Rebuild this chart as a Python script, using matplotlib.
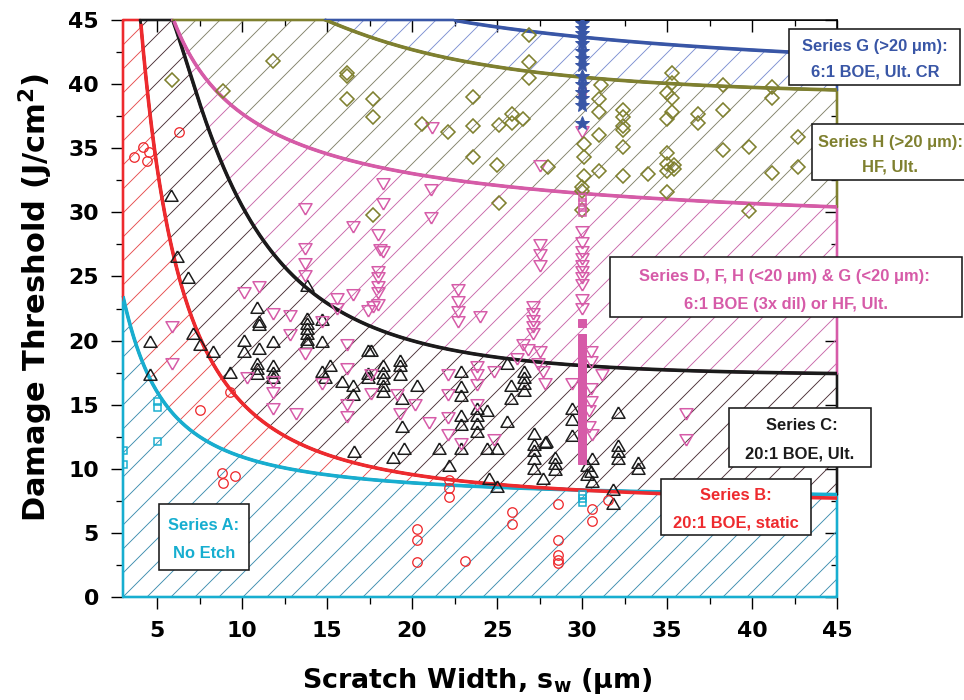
import numpy as np
import matplotlib
matplotlib.use("Agg")
import matplotlib.pyplot as plt
from matplotlib.patches import Rectangle

# ---------------- data ----------------
# threshold curves: anchor points (x in um, y in J/cm2)
curveA_x = [3, 3.5, 4, 5, 6, 7.5, 9.5, 11.5, 15.2, 20, 25, 30, 45]
curveA_y = [23.2, 21.3, 19.0, 15.5, 14.1, 12.5, 11.2, 10.4, 9.75, 9.1, 8.6, 8.3, 7.7]
curveB_x = [4.0, 4.6, 5.0, 5.65, 6.5, 7.5, 9.3, 11.1, 13.4, 15.6, 18.1, 24, 30, 34.6, 45]
curveB_y = [45, 38.5, 34, 27.8, 23.4, 20.5, 16.4, 13.8, 11.7, 10.8, 10.4, 9.3, 8.4, 8.0, 7.3]
curveC_x = [5.9, 7.5, 8.1, 9.9, 12.1, 15.2, 18.1, 21.5, 25.8, 31.1, 45]
curveC_y = [45, 38.8, 36.2, 31.0, 25.8, 22.4, 20.8, 20.0, 18.9, 18.1, 17.0]
curveD_x = [5.95, 7.5, 9.5, 11.5, 15.2, 20, 25, 30, 34.6, 45]
curveD_y = [45, 41.4, 38.0, 36.2, 34.6, 33.3, 32.1, 31.4, 31.0, 30.4]
curveH_x = [14.6, 15.2, 17.6, 20, 22.5, 25, 30, 34.6, 45]
curveH_y = [45.2, 44.8, 43.7, 42.7, 41.9, 41.3, 40.5, 40.2, 39.5]
curveG_x = [22.5, 25, 30, 32.8, 37.5, 42.2, 45]
curveG_y = [45, 44.4, 43.7, 43.3, 42.9, 42.5, 42.3]

# Series A: no etch (open cyan squares)
seriesA_x = [3.0, 3.0, 5.0, 5.0, 5.0, 30.0, 30.0, 30.0]
seriesA_y = [11.5, 10.4, 15.3, 14.8, 12.2, 8.0, 7.7, 7.4]

# Series B: 20:1 BOE static (open red circles)
seriesB_x = [3.65, 4.2, 4.5, 4.4, 6.3, 7.5, 9.3, 8.8, 8.9, 9.6, 22.2, 22.2, 22.2, 25.9, 25.9,
             20.3, 20.3, 20.3, 23.1, 28.6, 28.6, 28.6, 28.6, 28.6, 30.6, 30.6, 31.5]
seriesB_y = [34.3, 35.1, 34.7, 34.0, 36.3, 14.6, 16.0, 9.7, 8.9, 9.4, 9.1, 8.5, 7.8, 6.6, 5.7,
             5.3, 4.45, 2.75, 2.8, 7.25, 4.45, 3.3, 2.9, 2.65, 6.9, 5.9, 7.6]

# Series C: 20:1 BOE Ult. (open black up-triangles)
seriesC_x = [4.6, 4.6, 5.8, 6.2, 6.8, 7.1, 7.5, 8.3, 9.3,
             10.1, 10.1, 10.9, 11.0, 11.0, 11.0, 10.9, 10.9, 10.9, 11.8, 11.8, 11.8, 11.8,
             13.8, 13.8, 13.8, 13.8, 13.8, 13.8, 13.8, 14.7, 14.7, 14.7, 14.9, 15.2, 15.9, 16.5, 16.5, 16.6,
             17.4, 17.4, 17.4, 17.6, 18.3, 18.3, 18.3, 18.3, 18.3, 19.3, 19.3, 19.3, 19.4, 19.4, 19.5, 18.9, 20.3,
             22.9, 22.9, 22.9, 22.9, 22.9, 23.8, 23.8, 23.8, 23.8, 24.4, 25.6, 21.6, 22.9, 24.4, 25.0, 22.2, 24.5, 25.0,
             25.6, 26.6, 26.6, 26.6, 26.6, 25.8, 25.8, 27.2, 27.2, 27.2, 27.8, 27.2, 27.2, 28.4, 28.4, 28.4, 27.7,
             29.4, 29.4, 29.4, 30.3, 30.3, 30.6, 30.6, 32.1, 32.1, 32.1, 32.1, 33.3, 33.3, 31.8, 31.8, 30.5, 27.9]
seriesC_y = [19.8, 17.2, 31.2, 26.4, 24.8, 20.4, 19.6, 19.0, 17.4,
             19.9, 19.0, 22.5, 21.4, 21.1, 19.3, 18.1, 17.7, 17.3, 19.8, 17.9, 17.4, 17.0,
             24.2, 21.6, 21.2, 20.8, 20.4, 20.0, 19.7, 21.5, 19.8, 17.5, 17.0, 17.9, 16.7, 16.4, 15.7, 11.2,
             19.1, 17.3, 17.0, 19.1, 17.9, 17.4, 16.9, 16.4, 15.9, 18.3, 17.9, 17.2, 15.4, 13.2, 11.5, 10.8, 16.4,
             17.5, 16.3, 15.6, 14.0, 13.3, 14.6, 14.0, 13.4, 12.8, 14.4, 13.6, 11.5, 11.5, 11.5, 11.5, 10.1, 9.1, 8.5,
             18.1, 17.5, 17.0, 16.5, 16.0, 16.4, 15.4, 12.6, 11.8, 11.3, 11.9, 10.7, 9.9, 10.8, 10.3, 9.8, 9.1,
             14.6, 13.7, 12.5, 10.1, 9.4, 10.7, 8.9, 14.3, 11.7, 11.2, 10.7, 10.4, 9.9, 8.3, 7.2, 9.7, 12.0]

# Series D, F, H (<20 um) & G (<20 um): open magenta down-triangles
seriesD_x = [5.9, 5.9, 10.1, 11.0, 10.3, 11.8, 12.8, 12.8, 11.8, 11.8, 11.8, 13.2, 13.7, 13.7, 13.7, 13.7,
             13.7, 14.7, 14.7, 15.6, 15.6, 16.5, 16.2, 16.2, 16.2, 16.2, 16.5, 17.4, 17.6, 17.6,
             18.3, 18.3, 18.0, 18.1, 18.3, 18.0, 18.0, 18.0, 18.0, 18.0, 17.7,
             21.1, 21.1, 21.2, 19.1, 19.3, 20.2, 21.0, 22.1, 22.1, 22.9,
             22.7, 22.7, 22.7, 22.7, 24.0, 22.1, 22.1, 23.8, 23.8, 23.8, 24.8, 23.8, 24.8,
             27.5, 27.5, 27.5, 27.1, 27.1, 27.1, 27.1, 27.1, 26.5, 26.8, 27.5, 26.2, 27.4, 27.7, 27.8, 29.4, 27.5,
             30.0, 30.0, 30.0, 30.0, 30.0, 30.0, 30.0, 30.0, 30.0, 30.0, 30.0,
             30.5, 31.2, 30.5, 30.5, 30.5, 30.4, 30.4, 30.6, 36.1, 36.1]
seriesD_y = [21.2, 18.3, 23.9, 24.3, 17.2, 22.2, 22.1, 20.6, 16.9, 16.1, 14.8, 14.4, 30.4, 27.3, 26.1, 25.2,
             19.1, 21.6, 16.8, 23.4, 22.6, 23.7, 19.8, 17.9, 15.1, 14.2, 29.0, 22.5, 17.5, 16.0,
             32.4, 30.8, 28.4, 27.2, 27.1, 25.5, 25.0, 24.3, 23.9, 22.9, 22.8,
             31.9, 29.7, 36.7, 15.9, 14.4, 15.1, 13.7, 14.1, 12.8, 12.1,
             24.1, 23.2, 22.4, 21.6, 22.0, 17.5, 15.9, 18.1, 17.5, 16.7, 17.7, 15.1, 12.4,
             27.6, 26.8, 26.0, 22.8, 22.2, 21.7, 21.2, 20.7, 19.8, 19.4, 19.3, 18.7, 18.3, 17.7, 16.8, 16.8, 33.8,
             36.4, 28.6, 27.8, 27.1, 26.5, 26.0, 25.5, 25.0, 24.5, 23.3, 22.6,
             19.3, 17.5, 18.5, 16.4, 15.4, 14.7, 13.4, 12.8, 14.4, 12.4]

# magenta open squares and filled squares at s_w = 30 um
seriesF_x = [30.0, 30.0, 30.0, 30.0, 30.0]
seriesF_y = [39.5, 31.2, 30.8, 30.4, 30.0]
seriesDf_x = [30.0] * 21
seriesDf_y = [21.4, 20.2, 19.7, 19.2, 18.7, 18.2, 17.7, 17.2, 16.7, 16.2, 15.7, 15.2, 14.7,
              14.2, 13.7, 13.2, 12.7, 12.2, 11.7, 11.2, 10.7]

# Series H (>20 um): open olive diamonds
seriesH_x = [5.9, 8.9, 11.8, 16.2, 16.2, 16.2, 17.7, 17.7, 17.7, 20.6, 22.1, 23.6, 23.6, 23.6, 25.1, 25.0, 25.1,
             25.9, 25.9, 26.5, 26.9, 26.9, 26.9, 28.0,
             31.1, 31.0, 31.0, 30.1, 30.1, 31.0, 31.0, 30.1, 30.0, 30.0, 30.0,
             32.4, 32.4, 32.4, 32.4, 32.4, 32.4, 33.9, 35.3, 35.3, 35.0, 35.3, 35.3, 35.0, 35.0, 35.0, 35.4, 35.4,
             35.0, 35.0, 36.8, 36.8, 38.3, 38.3, 38.3, 39.8, 39.8, 41.2, 41.2, 41.2, 42.7, 42.7]
seriesH_y = [40.3, 39.5, 41.8, 40.9, 40.6, 38.8, 38.8, 37.4, 29.8, 36.9, 36.3, 39.0, 36.7, 34.3, 36.8, 33.7, 30.7,
             37.7, 37.0, 37.3, 43.8, 41.7, 40.5, 33.5,
             39.9, 38.8, 37.8, 35.3, 34.3, 36.0, 33.2, 32.8, 32.0, 31.7, 30.2,
             38.0, 37.4, 36.7, 36.4, 35.1, 32.8, 33.0, 40.9, 40.1, 39.3, 38.9, 37.8, 37.3, 34.6, 33.8, 33.7, 33.4,
             33.2, 31.6, 37.7, 37.0, 39.9, 38.0, 34.9, 35.1, 30.1, 39.8, 38.9, 33.1, 35.9, 33.5]

# Series G (>20 um): filled blue stars
seriesG_x = [30.0] * 14
seriesG_y = [44.8, 44.4, 44.0, 43.6, 43.2, 42.6, 42.0, 41.5, 40.6, 40.0, 39.4, 38.9, 38.4, 37.0]

xticks_major = [5, 10, 15, 20, 25, 30, 35, 40, 45]
yticks_major = [0, 5, 10, 15, 20, 25, 30, 35, 40, 45]

# ---------------- style ----------------
DPI = 72
W, H = 964, 700
plt.rcParams['font.family'] = ['DejaVu Sans']
plt.rcParams['font.weight'] = 'bold'
plt.rcParams['mathtext.default'] = 'bf'
plt.rcParams['hatch.linewidth'] = 0.9

C_CYAN, H_CYAN = '#17AED0', '#3C8DAE'
C_RED, H_RED = '#EE2A2E', '#E64C4E'
C_BLK, H_BLK = '#1B1B1B', '#4A3036'
C_MAG, H_MAG = '#D65BA8', '#C967AA'
C_OLV, H_OLV = '#7F802F', '#83836A'
C_BLU, H_BLU = '#3956A6', '#7D8FD2'

XMIN, XMAX, YMIN, YMAX = 3, 45, 0, 45

fig = plt.figure(figsize=(W / DPI, H / DPI), dpi=DPI)
ax = fig.add_axes([123 / W, 1 - 597 / H, 714 / W, 577 / H])
ax.set_xlim(XMIN, XMAX)
ax.set_ylim(YMIN, YMAX)

xs = np.linspace(XMIN, XMAX, 800)


def fit_curve(xa, ya):
    xa = np.asarray(xa, float)
    ya = np.asarray(ya, float)
    deg = 3 if len(xa) >= 9 else 2
    coef = np.polyfit(1.0 / xa, ya, deg)
    y = np.polyval(coef, 1.0 / xs)
    y_line = np.where(xs >= xa.min(), y, np.nan)
    y_reg = np.where(xs >= xa.min(), np.minimum(y, YMAX), YMAX)
    return y_line, y_reg


lines = {}
regs = {}
for key, xa, ya in [('A', curveA_x, curveA_y), ('B', curveB_x, curveB_y), ('C', curveC_x, curveC_y),
                    ('D', curveD_x, curveD_y), ('H', curveH_x, curveH_y), ('G', curveG_x, curveG_y)]:
    lines[key], regs[key] = fit_curve(xa, ya)

bounds = []
lo = np.zeros_like(xs)
for key in ['A', 'B', 'C', 'D', 'H', 'G']:
    hi = np.maximum(lo, regs[key])
    bounds.append((key, lo.copy(), hi.copy()))
    lo = hi

style = {'A': (C_CYAN, H_CYAN), 'B': (C_RED, H_RED), 'C': (C_BLK, H_BLK),
         'D': (C_MAG, H_MAG), 'H': (C_OLV, H_OLV), 'G': (C_BLU, H_BLU)}

for key, lo_, hi_ in bounds:
    lc, hc = style[key]
    mask = hi_ > lo_ + 1e-6
    ax.fill_between(xs, lo_, hi_, where=mask, interpolate=True, facecolor='none',
                    edgecolor=hc, hatch='/', linewidth=0, zorder=1)
    ax.fill_between(xs, lo_, hi_, where=mask, interpolate=True, facecolor='none',
                    edgecolor=lc, linewidth=2.6, zorder=2.6, clip_on=False)

for key in ['A', 'B', 'C', 'D', 'H', 'G']:
    ax.plot(xs, lines[key], color=style[key][0], lw=3.6, zorder=2.8, solid_capstyle='butt')

# markers
tri_up = [(0, 1.15), (-1, -0.58), (1, -0.58), (0, 1.15)]
tri_dn = [(0, -1.15), (-1, 0.58), (1, 0.58), (0, -1.15)]
mk = dict(linestyle='none', markerfacecolor='none', zorder=4)
ax.plot(seriesC_x, seriesC_y, marker=tri_up, ms=15, mew=1.5, markeredgecolor=C_BLK, **mk)
ax.plot(seriesD_x, seriesD_y, marker=tri_dn, ms=15, mew=1.5, markeredgecolor=C_MAG, **mk)
ax.plot(seriesH_x, seriesH_y, marker='D', ms=9.5, mew=1.6, markeredgecolor=C_OLV, **mk)
ax.plot(seriesB_x, seriesB_y, marker='o', ms=9.5, mew=1.3, markeredgecolor=C_RED, **mk)
ax.plot(seriesA_x, seriesA_y, marker='s', ms=7, mew=1.5, markeredgecolor=C_CYAN, **mk)
ax.plot(seriesF_x, seriesF_y, marker='s', ms=7, mew=1.5, markeredgecolor=C_MAG, **mk)
ax.plot(seriesDf_x, seriesDf_y, linestyle='none', marker='s', ms=8, color=C_MAG, zorder=4)
ax.plot(seriesG_x, seriesG_y, linestyle='none', marker='*', ms=14, color=C_BLU, zorder=4)

# ticks
ax.set_xticks(xticks_major)
ax.set_yticks(yticks_major)
ax.set_xticks(np.array(xticks_major[:-1]) + 2.5, minor=True)
ax.set_yticks(np.array(yticks_major[:-1]) + 2.5, minor=True)
ax.tick_params(which='major', direction='out', length=12, width=1.4, labelsize=22, pad=12)
ax.tick_params(which='minor', direction='out', length=7, width=1.3)
for lab in ax.get_xticklabels() + ax.get_yticklabels():
    lab.set_fontweight('bold')
for sp in ax.spines.values():
    sp.set_linewidth(1.5)

sx = ax.secondary_xaxis('top')
sx.set_xticks(xticks_major)
sx.set_xticks(np.array(xticks_major[:-1]) + 2.5, minor=True)
sx.tick_params(which='major', direction='in', length=12, width=1.4, labeltop=False)
sx.tick_params(which='minor', direction='in', length=6, width=1.3)
sy = ax.secondary_yaxis('right')
sy.set_yticks(yticks_major)
sy.set_yticks(np.array(yticks_major[:-1]) + 2.5, minor=True)
sy.tick_params(which='major', direction='in', length=12, width=1.4, labelright=False)
sy.tick_params(which='minor', direction='in', length=6, width=1.3)

# axis labels
fig.text(477 / W, 1 - 688 / H, r'Scratch Width, s$_\mathbf{w}$ (μm)', ha='center', va='baseline',
         fontsize=27, fontweight='bold')
fig.text(46 / W, 1 - 297 / H, r'Damage Threshold (J/cm$^\mathbf{2}$)', ha='center', va='baseline',
         rotation=90, rotation_mode='anchor', fontsize=30.5, fontweight='bold')

# annotation boxes: (x0, y0, x1, y1) in pixels, text lines with centers
boxes = [
    ((789, 29, 960, 85), C_BLU, [('Series G (>20 μm):', 875, 46), ('6:1 BOE, Ult. CR', 875, 72)]),
    ((812, 124, 966, 180), C_OLV, [('Series H (>20 μm):', 890, 142), ('HF, Ult.', 890, 167)]),
    ((610, 257, 962, 317), C_MAG, [('Series D, F, H (<20 μm) & G (<20 μm):', 784, 276),
                                   ('6:1 BOE (3x dil) or HF, Ult.', 786, 304)]),
    ((729, 408, 871, 467), C_BLK, [('Series C:', 802, 426), ('20:1 BOE, Ult.', 800, 454)]),
    ((661, 479, 811, 535), C_RED, [('Series B:', 736, 495), ('20:1 BOE, static', 736, 523)]),
    ((159, 504, 249, 570), C_CYAN, [('Series A:', 204, 526), ('No Etch', 204, 553)]),
]
for (x0, y0, x1, y1), col, texts in boxes:
    fig.add_artist(Rectangle((x0 / W, 1 - y1 / H), (x1 - x0) / W, (y1 - y0) / H,
                             transform=fig.transFigure, facecolor='white', edgecolor='#1a1a1a',
                             linewidth=1.6, zorder=10))
    for t, cx, cy in texts:
        fig.text(cx / W, 1 - cy / H, t, ha='center', va='center', color=col,
                 fontsize=16.5, fontweight='bold', family=['Liberation Sans', 'DejaVu Sans'], zorder=11)

fig.savefig('out.png', dpi=DPI)
